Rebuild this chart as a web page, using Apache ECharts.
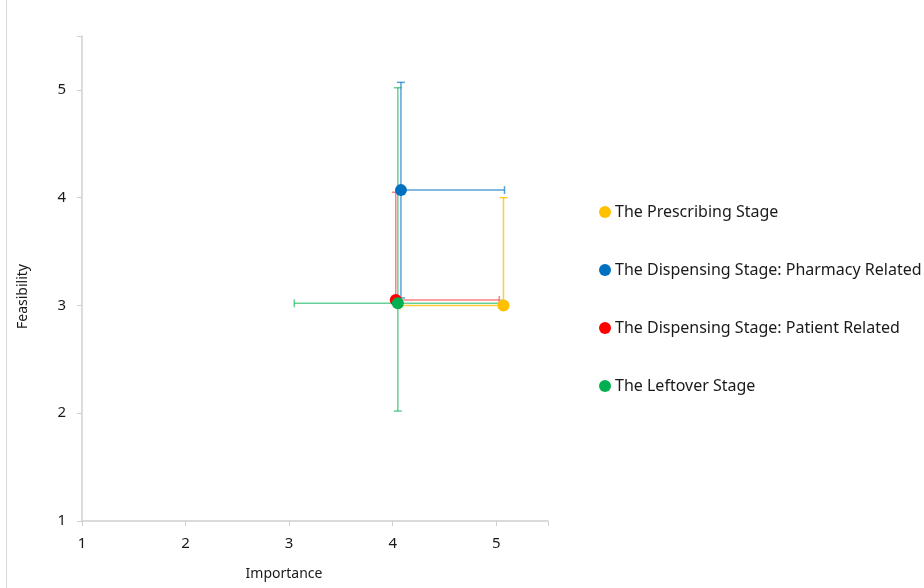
<!DOCTYPE html>
<html>
<head>
<meta charset="utf-8">
<script src="https://cdn.jsdelivr.net/npm/echarts@6/dist/echarts.min.js"></script>
<style>html,body{margin:0;padding:0;background:#fff}#c{width:924px;height:588px}</style>
</head>
<body>
<div id="c"></div>
<script>
const stageNames = ['The Prescribing Stage', 'The Dispensing Stage: Pharmacy Related', 'The Dispensing Stage: Patient Related', 'The Leftover Stage'];
const importance = [5.07, 4.08, 4.03, 4.05];
const feasibility = [3.0, 4.07, 3.05, 3.02];
const xErrMinus = [1, 0, 0, 1];
const xErrPlus = [0, 1, 1, 1];
const yErrMinus = [0, 1, 0, 1];
const yErrPlus = [1, 1, 1, 2];
const xTicks = [1, 2, 3, 4, 5];
const yTicks = [1, 2, 3, 4, 5];

const colors = ['#FFC000', '#0070C0', '#FF0000', '#00B050'];
const barColors = ['rgba(255,192,0,0.8)', 'rgba(0,112,192,0.65)', 'rgba(255,0,0,0.5)', 'rgba(0,176,80,0.6)'];

function makeRender(color) {
  return function (params, api) {
    const x = api.value(0), y = api.value(1);
    const xm = api.value(2), xp = api.value(3), ym = api.value(4), yp = api.value(5);
    const c = api.coord([x, y]);
    const cap = 4;
    const style = { stroke: color, lineWidth: 1.5, fill: null };
    const ch = [];
    function seg(x1, y1, x2, y2) {
      ch.push({ type: 'line', shape: { x1: x1, y1: y1, x2: x2, y2: y2 }, style: style });
    }
    if (xm > 0) { const p = api.coord([x - xm, y]); seg(p[0], c[1], c[0], c[1]); seg(p[0], c[1] - cap, p[0], c[1] + cap); }
    if (xp > 0) { const p = api.coord([x + xp, y]); seg(c[0], c[1], p[0], c[1]); seg(p[0], c[1] - cap, p[0], c[1] + cap); }
    if (ym > 0) { const p = api.coord([x, y - ym]); seg(c[0], c[1], c[0], p[1]); seg(c[0] - cap, p[1], c[0] + cap, p[1]); }
    if (yp > 0) { const p = api.coord([x, y + yp]); seg(c[0], p[1], c[0], c[1]); seg(c[0] - cap, p[1], c[0] + cap, p[1]); }
    return { type: 'group', children: ch };
  };
}

const series = [];
stageNames.forEach(function (n, i) {
  series.push({
    name: 'err' + i,
    type: 'custom',
    z: 1,
    renderItem: makeRender(barColors[i]),
    encode: { x: 0, y: 1 },
    data: [[importance[i], feasibility[i], xErrMinus[i], xErrPlus[i], yErrMinus[i], yErrPlus[i]]],
    silent: true
  });
});
stageNames.forEach(function (n, i) {
  series.push({
    name: n,
    type: 'scatter',
    z: 2,
    symbol: 'circle',
    symbolSize: 12,
    itemStyle: { color: colors[i], opacity: 1 },
    data: [[importance[i], feasibility[i]]]
  });
});

const fontFam = 'Noto Sans';
const chart = echarts.init(document.getElementById('c'));
chart.setOption({
  animation: false,
  backgroundColor: '#fff',
  grid: { left: 82, right: 376, top: 36, bottom: 67 },
  legend: {
    data: stageNames.map(function (n, i) { return { name: n, icon: 'circle', itemStyle: { color: colors[i] } }; }),
    orient: 'vertical',
    left: 594,
    top: 199,
    itemWidth: 12,
    itemHeight: 12,
    itemGap: 42,
    textStyle: { fontFamily: fontFam, fontSize: 16, color: '#1a1a1a', padding: [0, 0, 0, -1] }
  },
  xAxis: {
    type: 'value',
    min: 1, max: 5.5, interval: 1,
    name: 'Importance',
    nameLocation: 'middle',
    nameGap: 46,
    nameTextStyle: { fontFamily: fontFam, fontSize: 14, color: '#1a1a1a', padding: [0, 62, 0, 0] },
    axisLine: { show: true, onZero: false, lineStyle: { color: '#d0d0d0', width: 1.5 } },
    axisTick: { show: true, inside: false, length: 5, lineStyle: { color: '#d0d0d0' } },
    axisLabel: { fontFamily: fontFam, fontSize: 15, color: '#1a1a1a', margin: 15, formatter: function (v) { return xTicks.indexOf(v) >= 0 ? String(v) : ''; } },
    splitLine: { show: false }
  },
  yAxis: {
    type: 'value',
    min: 1, max: 5.5, interval: 1,
    name: 'Feasibility',
    nameLocation: 'middle',
    nameGap: 52,
    nameRotate: 90,
    nameTextStyle: { fontFamily: fontFam, fontSize: 14, color: '#1a1a1a', padding: [0, 36, 0, 0] },
    axisLine: { show: true, onZero: false, lineStyle: { color: '#d0d0d0', width: 1.5 } },
    axisTick: { show: true, inside: false, length: 5, lineStyle: { color: '#d0d0d0' } },
    axisLabel: { fontFamily: fontFam, fontSize: 15, color: '#1a1a1a', margin: 16, formatter: function (v) { return yTicks.indexOf(v) >= 0 ? String(v) : ''; } },
    splitLine: { show: false }
  },
  graphic: [{ type: 'line', shape: { x1: 6.5, y1: 0, x2: 6.5, y2: 588 }, style: { stroke: '#d9d9d9', lineWidth: 1 } }],
  series: series
});
</script>
</body>
</html>
